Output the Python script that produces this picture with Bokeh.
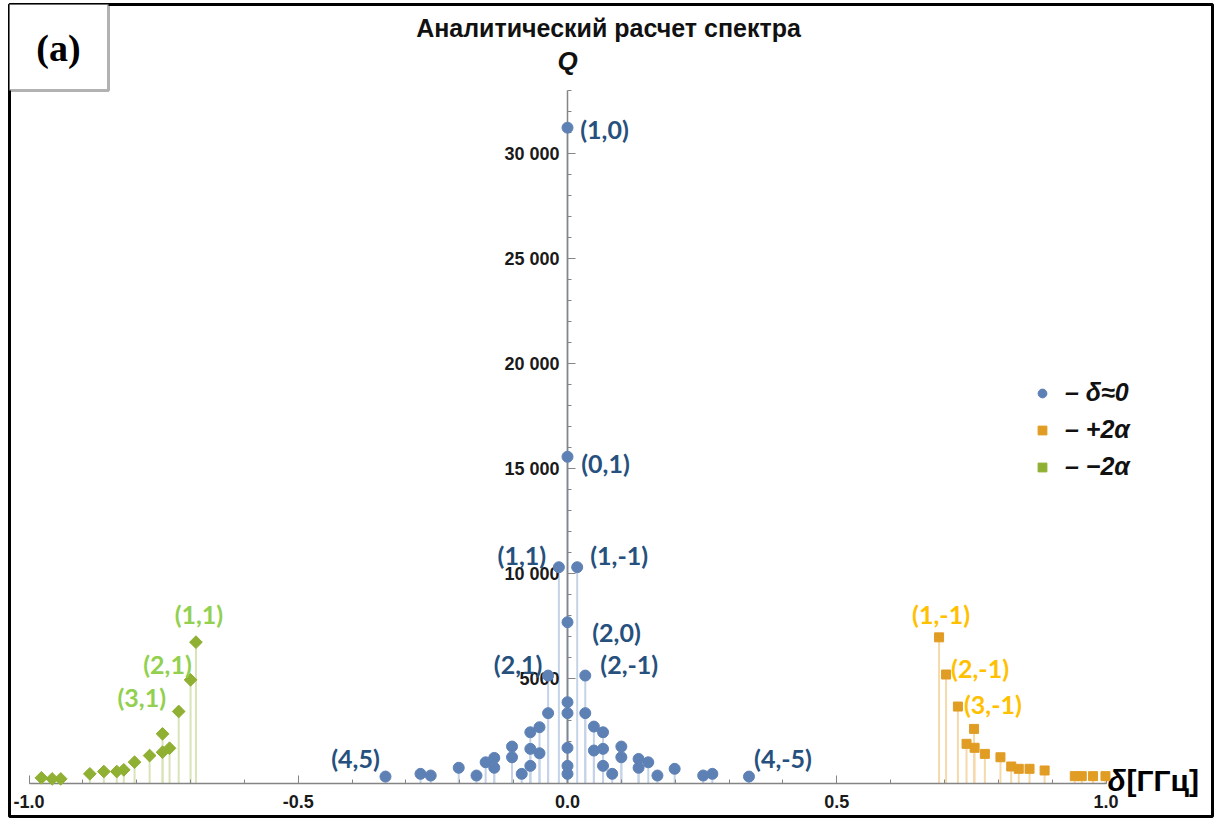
import math
from bokeh.plotting import figure
from bokeh.models import (ColumnDataSource, FixedTicker, Label, BoxAnnotation, Legend,
                          LegendItem, Range1d, CustomJSTickFormatter)
from bokeh.core.properties import value
from bokeh.embed import file_html
from bokeh.resources import INLINE

# ---------------- data ----------------
blue_x = [0.0, 0.0, -0.016, 0.018, 0.0, -0.036, 0.033, 0.0, 0.0, 0.0, 0.0, 0.0,
          -0.036, 0.033, -0.052, -0.052, 0.049, 0.049, -0.069, -0.069, -0.069,
          0.066, 0.066, 0.066, -0.085, 0.083, -0.103, -0.103, 0.100, 0.100,
          -0.136, -0.136, 0.132, 0.132, -0.152, 0.150, -0.169, 0.167, -0.202, 0.199,
          -0.254, 0.252, -0.273, 0.269, -0.338, 0.337]
blue_y = [31230, 15560, 10300, 10300, 7680, 5140, 5140, 3870, 3350, 1700, 840, 460,
          3350, 3350, 2680, 1440, 2710, 1570, 2440, 1650, 840,
          2440, 1650, 840, 460, 460, 1760, 1250, 1760, 1250,
          1220, 750, 1170, 750, 1010, 1010, 380, 380, 750, 700,
          380, 380, 460, 460, 330, 330]

orange_x = [0.690, 0.703, 0.725, 0.755, 0.741, 0.756, 0.775, 0.804, 0.824, 0.838,
            0.858, 0.886, 0.942, 0.955, 0.976, 0.999]
orange_y = [6960, 5190, 3665, 2600, 1890, 1700, 1410, 1250, 810, 700,
            700, 620, 350, 350, 350, 350]

green_x = [-0.690, -0.700, -0.722, -0.752, -0.739, -0.752, -0.776, -0.804, -0.824,
           -0.837, -0.861, -0.887, -0.941, -0.957, -0.977]
green_y = [6730, 4935, 3430, 2365, 1680, 1490, 1330, 1015, 650,
           570, 570, 460, 220, 220, 270]

# labels attached to points (index into the series arrays)
blue_labels = ["(1,0)", "(0,1)", "(1,1)", "(1,-1)", "(2,0)", "(2,1)", "(2,-1)", "(4,5)", "(4,-5)"]
blue_label_idx = [0, 1, 2, 3, 4, 5, 6, 44, 45]
orange_labels = ["(1,-1)", "(2,-1)", "(3,-1)"]
orange_label_idx = [0, 1, 2]
green_labels = ["(1,1)", "(2,1)", "(3,1)"]
green_label_idx = [0, 1, 2]

legend_labels = ["\u2013 \u03b4\u22480", "\u2013 +2\u03b1", "\u2013 \u22122\u03b1"]

x_major = [-1.0, -0.5, 0.0, 0.5, 1.0]
y_major = [5000, 10000, 15000, 20000, 25000, 30000]

title_text = "Аналитический расчет спектра"

# ---------------- layout / styles ----------------
W, H = 1219, 821
FL, FR, FT, FB = 9, 1212, 4, 816
X0PX, XSCALE = 567.0, 538.5
Y0PX, YSCALE = 783.0, 47.62

def px2x(px):
    return (px - X0PX) / XSCALE

def px2y(py):
    return (Y0PX - py) * YSCALE

BLUE, ORANGE, GREEN = "#5e81b5", "#e19c24", "#8fb032"
BLUE_STEM, ORANGE_STEM, GREEN_STEM = "#c5d3e8", "#f4d9ab", "#d8e4b8"
BLUE_TXT, ORANGE_TXT, GREEN_TXT = "#26507d", "#ffc000", "#92d050"

blue_off = [(37, 1), (38, 6), (-37, -12), (42, -12), (49, 10), (-30, -12), (44, -12), (-30, -19), (34, -19)]
orange_off = [(2, -23), (34, -7), (35, -3)]
green_off = [(3, -28), (-23, -16), (-37, -14)]

p = figure(width=W, height=H, output_backend="svg", toolbar_location=None,
           x_range=Range1d(px2x(FL), px2x(FR)), y_range=Range1d(px2y(FB), px2y(FT)),
           min_border_left=FL, min_border_right=W - FR, min_border_top=FT,
           min_border_bottom=H - FB)
p.outline_line_color = "black"
p.outline_line_width = 3
p.xgrid.visible = False
p.ygrid.visible = False
p.background_fill_color = "white"

# axes through the origin
for ax in (p.xaxis[0], p.yaxis[0]):
    ax.fixed_location = 0
    ax.axis_line_color = "#858585"
    ax.axis_line_width = 1.5
    ax.major_tick_line_color = "#858585"
    ax.minor_tick_line_color = "#858585"
    ax.major_tick_in = 8
    ax.major_tick_out = 0
    ax.minor_tick_in = 4
    ax.minor_tick_out = 0
    ax.major_label_text_font = "Liberation Sans"
    ax.major_label_text_font_style = "bold"
    ax.major_label_text_font_size = "18px"
    ax.major_label_text_color = "#1a1a1a"

p.xaxis.bounds = (-1, 1)
p.xaxis.ticker = FixedTicker(ticks=x_major, minor_ticks=[round(-1 + 0.1 * i, 1) for i in range(21)])
p.xaxis.formatter = CustomJSTickFormatter(code="return tick.toFixed(1);")
p.xaxis.major_label_standoff = 11

p.yaxis.bounds = (0, 33000)
p.yaxis.ticker = FixedTicker(ticks=y_major, minor_ticks=list(range(1000, 33001, 1000)))
p.yaxis.formatter = CustomJSTickFormatter(code="""
const s = Math.round(tick).toString();
return s.length > 4 ? s.slice(0, s.length - 3) + ' ' + s.slice(-3) : s;
""")
p.yaxis.major_label_standoff = 8

# stems + markers
def series(xs, ys, stem_color, marker, color, size, angle=0.0):
    src = ColumnDataSource(dict(x=xs, y=ys))
    p.segment(x0="x", y0=0, x1="x", y1="y", source=src, line_color=stem_color, line_width=2)
    r = p.scatter("x", "y", source=src, marker=marker, size=size, fill_color=color,
                  line_color=color, angle=angle, level="overlay")
    return r

rg = series(green_x, green_y, GREEN_STEM, "square", GREEN, 9, math.pi / 4)
ro = series(orange_x, orange_y, ORANGE_STEM, "square", ORANGE, 9)
rb = series(blue_x, blue_y, BLUE_STEM, "circle", BLUE, 11)

# point labels
def labels(texts, idx, xs, ys, offs, color):
    src = ColumnDataSource(dict(
        x=[xs[i] for i in idx], y=[ys[i] for i in idx], text=texts,
        dx=[o[0] for o in offs], dy=[o[1] for o in offs]))
    p.text(x="x", y="y", text="text", x_offset="dx", y_offset="dy", source=src,
           text_align="center", text_baseline="middle", text_color=color,
           text_font=value("Lato"), text_font_style="bold", text_font_size="25px",
           level="overlay")

labels(blue_labels, blue_label_idx, blue_x, blue_y, blue_off, BLUE_TXT)
labels(orange_labels, orange_label_idx, orange_x, orange_y, orange_off, ORANGE_TXT)
labels(green_labels, green_label_idx, green_x, green_y, green_off, GREEN_TXT)

# legend
legend = Legend(items=[LegendItem(label=legend_labels[0], renderers=[rb]),
                       LegendItem(label=legend_labels[1], renderers=[ro]),
                       LegendItem(label=legend_labels[2], renderers=[rg])],
                location=(1022, 335), padding=0, margin=0, spacing=8,
                glyph_width=22, glyph_height=22, label_height=20, label_standoff=12,
                border_line_color=None, background_fill_alpha=0,
                label_text_font="Liberation Sans", label_text_font_style="bold italic",
                label_text_font_size="25px", label_text_color="#111111")
p.add_layout(legend)

# title, axis names, panel tag
p.add_layout(Label(x=px2x(608), y=px2y(27), text=title_text, text_align="center",
                   text_baseline="middle", text_font="Liberation Sans", text_font_style="bold",
                   text_font_size="25px", text_color="#111111"))
p.add_layout(Label(x=px2x(567), y=px2y(60), text="Q", text_align="center",
                   text_baseline="middle", text_font="Liberation Sans",
                   text_font_style="bold italic", text_font_size="26px", text_color="#111111"))
p.add_layout(Label(x=px2x(1107), y=px2y(780), text="\u03b4", text_align="left",
                   text_baseline="middle", text_font="Liberation Sans",
                   text_font_style="bold italic", text_font_size="30px", text_color="#000000"))
p.add_layout(Label(x=px2x(1126), y=px2y(780), text="[ГГц]", text_align="left",
                   text_baseline="middle", text_font="Liberation Sans",
                   text_font_style="bold", text_font_size="30px", text_color="#000000"))

p.add_layout(BoxAnnotation(left=px2x(8), right=px2x(108), top=px2y(3), bottom=px2y(90),
                           fill_color="white", fill_alpha=1, line_color="black", line_width=3))
p.add_layout(Label(x=px2x(58), y=px2y(47), text="(a)", text_align="center",
                   text_baseline="middle", text_font="Liberation Serif",
                   text_font_style="bold", text_font_size="38px", text_color="#000000"))

open("out.html", "w").write(file_html(p, INLINE))
